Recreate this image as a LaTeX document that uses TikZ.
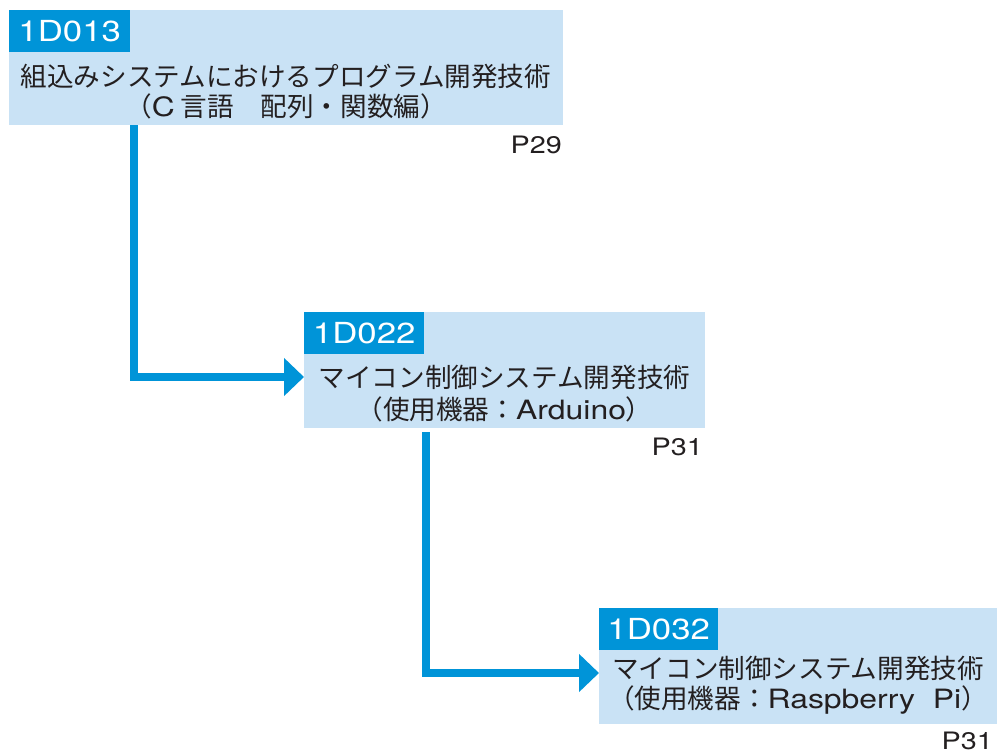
\documentclass[tikz,border=0pt]{standalone}
\usepackage{fontspec}
\setmainfont{Noto Sans CJK JP}
\newfontfamily\lat[FakeStretch=1.2]{TeX Gyre Heros}
\usetikzlibrary{arrows.meta,calc}
\definecolor{lightb}{HTML}{C9E2F5}
\definecolor{darkb}{HTML}{0094D8}
\definecolor{txt}{HTML}{231F20}
\begin{document}
\begin{tikzpicture}[x=1pt,y=-1pt,
  box/.style={fill=lightb,draw=none,anchor=north west,inner sep=0pt},
  tag/.style={fill=darkb,text=white,anchor=north west,inner sep=0pt,minimum height=42pt,font=\lat\fontsize{29}{32}\selectfont},
  ttl/.style={text=txt,inner sep=0pt,font=\fontsize{26.6}{30}\selectfont},
  pg/.style={text=txt,inner sep=0pt,anchor=east,font=\lat\fontsize{24}{28}\selectfont},
  conn/.style={draw=darkb,line width=8pt,line cap=butt,line join=miter,-{Triangle[length=20pt,width=37pt]}}]
\useasboundingbox (0,0) rectangle (997,753);
% box 1
\node[box,minimum width=554pt,minimum height=115pt] (b1) at (9,10) {};
\node[tag,minimum width=121pt] (t1) at (b1.north west) {1D013};
\node[ttl] (l1a) at (286,76) {組込みシステムにおけるプログラム開発技術};
\node[ttl] (l1b) at (286,106) {（{\lat C} 言語　配列・関数編）};
\node[pg] (p1) at (562,145) {P29};
% box 2
\node[box,minimum width=401pt,minimum height=116pt] (b2) at (304,312) {};
\node[tag,minimum width=120pt] (t2) at (b2.north west) {1D022};
\node[ttl] (l2a) at (504.5,377) {マイコン制御システム開発技術};
\node[ttl] (l2b) at (504.5,409) {（使用機器：{\lat Arduino}）};
\node[pg] (p2) at (703,447) {P31};
% box 3
\node[box,minimum width=398pt,minimum height=116pt] (b3) at (599,608) {};
\node[tag,minimum width=119pt] (t3) at (b3.north west) {1D032};
\node[ttl] (l3a) at (798,668) {マイコン制御システム開発技術};
\node[ttl] (l3b) at (798,700) {（使用機器：{\lat Raspberry\ \ Pi}）};
\node[pg] (p3) at (993,741) {P31};
% connectors
\coordinate (s1) at ($(b1.south west)+(125,0)$);
\coordinate (s2) at ($(b2.south west)+(122,4)$);
\draw[conn] (s1) |- (b2.west |- 0,377);
\draw[conn] (s2) |- (b3.west |- 0,673);
\end{tikzpicture}
\end{document}
